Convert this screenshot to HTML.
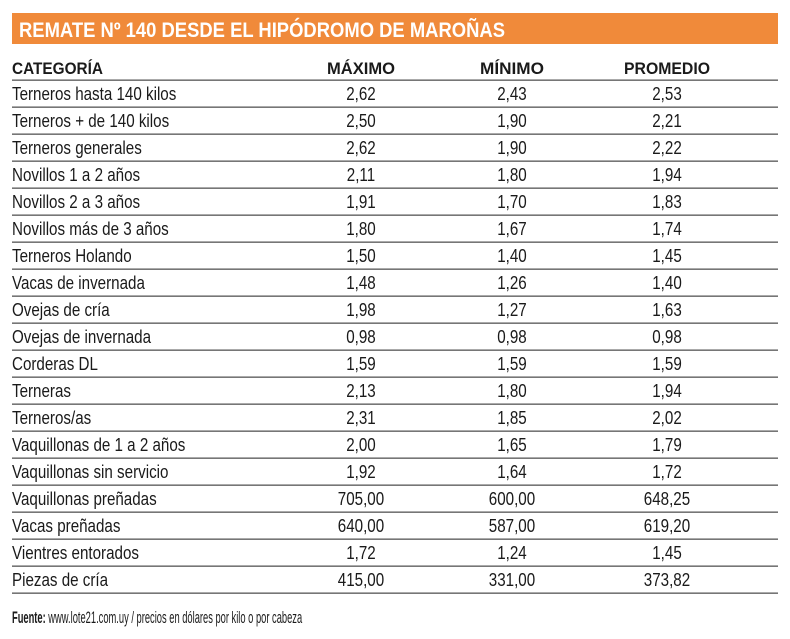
<!DOCTYPE html>
<html><head><meta charset="utf-8"><style>
html,body{margin:0;padding:0;background:#fff;width:790px;height:639px;overflow:hidden}
svg text{font-family:"Liberation Sans Narrow","Liberation Sans",sans-serif;fill:#1a1a1a}
</style></head><body>
<svg width="790" height="639" viewBox="0 0 790 639">
<rect x="12" y="13" width="766" height="31" fill="#f08a3a"/>
<text x="19" y="37" font-size="21" font-weight="bold" style="fill:#fff" textLength="486" lengthAdjust="spacingAndGlyphs">REMATE Nº 140 DESDE EL HIPÓDROMO DE MAROÑAS</text>
<g font-size="17" font-weight="bold">
<text x="12" y="74" textLength="91" lengthAdjust="spacingAndGlyphs">CATEGORÍA</text>
<text x="361" y="74" text-anchor="middle" textLength="68" lengthAdjust="spacingAndGlyphs">MÁXIMO</text>
<text x="512" y="74" text-anchor="middle" textLength="64" lengthAdjust="spacingAndGlyphs">MÍNIMO</text>
<text x="667" y="74" text-anchor="middle" textLength="86" lengthAdjust="spacingAndGlyphs">PROMEDIO</text>
</g>
<g id="rows" font-size="18.5"></g>
<text x="21.82" y="623" font-size="17" transform="scale(0.55 1)"><tspan font-weight="bold">Fuente:</tspan> www.lote21.com.uy / precios en dólares por kilo o por cabeza</text>
</svg>
<script>
var d=[["Terneros hasta 140 kilos","2,62","2,43","2,53"],["Terneros + de 140 kilos","2,50","1,90","2,21"],["Terneros generales","2,62","1,90","2,22"],["Novillos 1 a 2 años","2,11","1,80","1,94"],["Novillos 2 a 3 años","1,91","1,70","1,83"],["Novillos más de 3 años","1,80","1,67","1,74"],["Terneros Holando","1,50","1,40","1,45"],["Vacas de invernada","1,48","1,26","1,40"],["Ovejas de cría","1,98","1,27","1,63"],["Ovejas de invernada","0,98","0,98","0,98"],["Corderas DL","1,59","1,59","1,59"],["Terneras","2,13","1,80","1,94"],["Terneros/as","2,31","1,85","2,02"],["Vaquillonas de 1 a 2 años","2,00","1,65","1,79"],["Vaquillonas sin servicio","1,92","1,64","1,72"],["Vaquillonas preñadas","705,00","600,00","648,25"],["Vacas preñadas","640,00","587,00","619,20"],["Vientres entorados","1,72","1,24","1,45"],["Piezas de cría","415,00","331,00","373,82"]];
var ns="http://www.w3.org/2000/svg",g=document.getElementById("rows"),s=document.querySelector("svg"),k=0.82;
function ln(y){var l=document.createElementNS(ns,"rect");l.setAttribute("x",12);l.setAttribute("y",y);l.setAttribute("width",766);l.setAttribute("height",1.3);l.setAttribute("fill","#555");s.appendChild(l);}
ln(79.5);
d.forEach(function(r,i){var y=80+i*27;var bl=y+20;
var t=document.createElementNS(ns,"text");t.setAttribute("x",12/k);t.setAttribute("y",bl);t.textContent=r[0];t.setAttribute("transform","scale("+k+" 1)");g.appendChild(t);
[361,512,667].forEach(function(cx,j){var u=document.createElementNS(ns,"text");u.setAttribute("x",cx/k);u.setAttribute("y",bl);u.setAttribute("text-anchor","middle");u.setAttribute("transform","scale("+k+" 1)");u.textContent=r[j+1];g.appendChild(u);});
ln(y+26.5);});
</script>
</body></html>
